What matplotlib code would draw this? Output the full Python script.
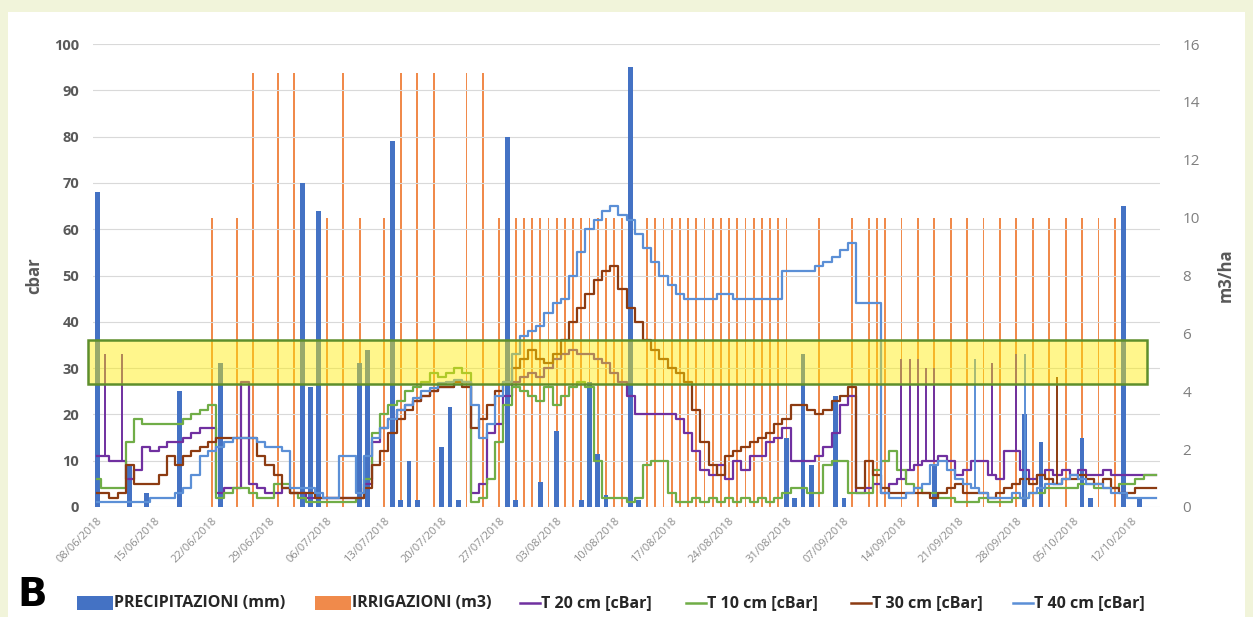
import matplotlib
matplotlib.use("Agg")
import matplotlib.pyplot as plt
from matplotlib.patches import Rectangle
from matplotlib.lines import Line2D

plt.rcParams['font.family'] = ['Open Sans', 'DejaVu Sans']

# ---- data (day 0 = 08/06/2018, one value per day) ----
days = list(range(130))

tick_days = [0, 7, 14, 21, 28, 35, 42, 49, 56, 63, 70, 77, 84, 91, 98, 105, 112, 119, 126]
tick_labels = ['08/06/2018', '15/06/2018', '22/06/2018', '29/06/2018', '06/07/2018',
               '13/07/2018', '20/07/2018', '27/07/2018', '03/08/2018', '10/08/2018',
               '17/08/2018', '24/08/2018', '31/08/2018', '07/09/2018', '14/09/2018',
               '21/09/2018', '28/09/2018', '05/10/2018', '12/10/2018']

# precipitation (mm, left axis)
rain_days = [0, 4, 6, 10, 15, 25, 26, 27, 32, 33, 36, 37, 38, 39, 42, 43, 44,
             50, 51, 54, 56, 59, 60, 61, 62, 65, 66, 84, 85, 86, 87, 90, 91,
             102, 113, 115, 120, 121, 125, 127]
rain_mm = [68, 9, 3, 25, 31, 70, 26, 64, 31, 34, 79, 1.5, 10, 1.5, 13, 21.5, 1.5,
           80, 1.5, 5.5, 16.5, 1.5, 27, 11.5, 2.5, 95, 1.5, 15, 2, 33, 9, 24, 2,
           9, 20, 14, 15, 2, 65, 2]

# irrigation (m3/ha, right axis)
irr_days = [14, 17, 19, 22, 24, 28, 30, 32, 35, 37, 39, 41, 45, 47, 49,
            51, 52, 53, 54, 55, 56, 57, 58, 59, 60, 61, 62, 63, 64,
            67, 68, 69, 70, 71, 72, 73, 74, 75, 76, 77, 78, 79, 80, 81, 82, 83, 84,
            88, 92, 94, 95, 96, 98, 100, 102, 104, 106, 108, 110, 112, 114,
            116, 118, 120, 122, 124]
irr_m3 = [10, 10, 15, 15, 15, 10, 15, 10, 10, 15, 15, 15, 15, 15, 10,
          10, 10, 10, 10, 10, 10, 10, 10, 10, 10, 10, 10, 10, 10,
          10, 10, 10, 10, 10, 10, 10, 10, 10, 10, 10, 10, 10, 10, 10, 10, 10, 10,
          10, 10, 10, 10, 10, 10, 10, 10, 10, 10, 10, 10, 10, 10,
          10, 10, 10, 10, 10]

# tensiometers (cbar)
t20 = [11, 11, 10, 10, 6, 8, 13, 12, 13, 14,
       14, 15, 16, 17, 17, 3, 4, 4, 27, 5,
       4, 3, 3, 4, 3, 3, 2, 2, 2, 2,
       2, 2, 2, 5, 14, 17, 19, 21, 22, 23,
       24, 25, 26, 26, 27, 27, 3, 5, 16, 18,
       24, 27, 28, 29, 28, 30, 32, 33, 34, 33,
       33, 32, 31, 29, 27, 24, 20, 20, 20, 20,
       20, 19, 16, 12, 8, 7, 9, 6, 10, 8,
       11, 11, 14, 15, 17, 10, 10, 10, 11, 13,
       16, 22, 24, 3, 4, 5, 3, 5, 6, 8,
       9, 10, 10, 11, 10, 7, 8, 10, 10, 7,
       6, 12, 12, 8, 6, 7, 8, 7, 8, 7,
       8, 7, 7, 8, 7, 7, 7, 7, 7, 7]
t10 = [6, 4, 4, 4, 14, 19, 18, 18, 18, 18,
       18, 19, 20, 21, 22, 2, 3, 4, 4, 3,
       2, 2, 5, 5, 3, 2, 1, 1, 1, 1,
       1, 1, 2, 6, 16, 20, 22, 23, 25, 26,
       27, 29, 28, 29, 30, 29, 1, 2, 6, 14,
       22, 26, 25, 24, 23, 26, 22, 24, 26, 27,
       26, 10, 2, 2, 2, 1, 2, 9, 10, 10,
       3, 1, 1, 2, 1, 2, 1, 2, 1, 2,
       1, 2, 1, 2, 3, 4, 4, 3, 3, 9,
       10, 10, 3, 3, 3, 8, 10, 12, 8, 5,
       4, 3, 3, 2, 2, 1, 1, 1, 2, 1,
       1, 1, 2, 2, 3, 3, 4, 4, 4, 4,
       5, 5, 4, 4, 4, 5, 5, 6, 7, 7]
t30 = [3, 3, 2, 3, 9, 5, 5, 5, 7, 11,
       9, 11, 12, 13, 14, 15, 15, 15, 15, 15,
       11, 9, 7, 4, 3, 3, 3, 2, 2, 2,
       2, 2, 2, 4, 9, 12, 16, 19, 21, 23,
       24, 25, 26, 26, 27, 26, 17, 19, 22, 25,
       27, 30, 32, 34, 32, 31, 33, 36, 40, 43,
       46, 49, 51, 52, 47, 43, 40, 36, 34, 32,
       30, 29, 27, 21, 14, 9, 7, 11, 12, 13,
       14, 15, 16, 18, 19, 22, 22, 21, 20, 21,
       23, 24, 26, 4, 10, 7, 4, 3, 3, 3,
       3, 3, 2, 3, 4, 5, 3, 3, 3, 2,
       3, 4, 5, 6, 5, 7, 6, 5, 6, 6,
       7, 6, 5, 6, 4, 3, 3, 4, 4, 4]
t40 = [1, 1, 1, 1, 1, 1, 1, 2, 2, 2,
       3, 4, 7, 11, 12, 13, 14, 15, 15, 15,
       14, 13, 13, 12, 4, 4, 4, 3, 2, 2,
       11, 11, 3, 11, 15, 17, 19, 21, 22, 23.5,
       25, 25.7, 26.8, 27, 27.4, 27, 22, 15, 18, 24,
       27, 33, 37, 38, 39, 42, 44, 45, 50, 55,
       60, 62, 64, 65, 63, 62, 59, 56, 53, 50,
       48, 46, 45, 45, 45, 45, 46, 46, 45, 45,
       45, 45, 45, 45, 51, 51, 51, 51, 52, 53,
       54, 55.5, 57, 44, 44, 44, 3, 2, 2, 3,
       4, 5, 9, 10, 8, 6, 5, 4, 3, 2,
       2, 2, 3, 2, 3, 4, 5, 5, 6, 7,
       6, 5, 5, 4, 3, 3, 2, 2, 2, 2]

# single-reading peaks of the tensiometers
t20_peak_days = [1, 3, 98, 99, 100, 101, 102, 109, 112]
t20_peak_vals = [33, 33, 32, 32, 32, 30, 30, 31, 33]
t40_peak_days = [107, 113]
t40_peak_vals = [32, 33]
t30_peak_days = [117]
t30_peak_vals = [28]

# optimal tension band
band_low, band_high = 26.5, 36

c_rain = '#4472c4'
c_irr = '#f08a4b'
c_t20 = '#7030a0'
c_t10 = '#70ad47'
c_t30 = '#8c3b12'
c_t40 = '#5b8fd6'

W, H = 1253, 617
fig = plt.figure(figsize=(W / 100, H / 100), dpi=100)
fig.patch.set_facecolor('#f1f4da')
fig.patches.append(Rectangle((8 / W, 0), (1245 - 8) / W, (617 - 12) / H,
                             transform=fig.transFigure, facecolor='white',
                             edgecolor='none', zorder=-10))

ax = fig.add_axes([93 / W, 1 - 507 / H, (1160 - 93) / W, (507 - 44) / H])
ax2 = ax.twinx()
ax.set_zorder(ax2.get_zorder() + 1)
ax.patch.set_visible(False)
ax2.patch.set_visible(False)

# irrigation on secondary axis (behind)
ax2.bar(irr_days, irr_m3, width=0.22, color=c_irr, zorder=2)
ax2.set_ylim(0, 16)
ax2.set_yticks(range(0, 17, 2))

# precipitation + lines on primary axis
ax.bar(rain_days, rain_mm, width=0.6, color=c_rain, zorder=2)
for vals, col in [(t20, c_t20), (t10, c_t10), (t30, c_t30), (t40, c_t40)]:
    ax.plot(days, vals, drawstyle='steps-mid', color=col, lw=1.6, zorder=3)
for pd_, pv, vals, col in [(t20_peak_days, t20_peak_vals, t20, c_t20),
                           (t40_peak_days, t40_peak_vals, t40, c_t40),
                           (t30_peak_days, t30_peak_vals, t30, c_t30)]:
    ax.vlines(pd_, [vals[d] for d in pd_], pv, color=col, lw=1.4, zorder=3)

ax.add_patch(Rectangle((-1.1, band_low), 129.0, band_high - band_low,
                       facecolor=(1.0, 0.93, 0.0, 0.45), edgecolor='#5e8f2c',
                       lw=1.8, zorder=10, clip_on=False))

ax.set_xlim(-0.5, 129.5)
ax.set_ylim(0, 100)
ax.set_yticks(range(0, 101, 10))
ax.grid(axis='y', color='#d9d9d9', lw=0.8)
ax.set_axisbelow(True)
ax.set_xticks(tick_days)
ax.set_xticklabels(tick_labels, rotation=45, ha='right', va='top',
                   fontsize=8, color='#8c8c8c', rotation_mode='anchor')
for a in (ax, ax2):
    for s in a.spines.values():
        s.set_visible(False)
    a.tick_params(length=0)
ax.tick_params(axis='x', pad=6)
ax.tick_params(axis='y', pad=10, labelsize=10.5, labelcolor='#595959')
for t in ax.get_yticklabels():
    t.set_fontweight('bold')
ax2.tick_params(axis='y', pad=16, labelsize=11, labelcolor='#7f7f7f')

ax.set_ylabel('cbar', fontsize=12, fontweight='bold', color='#595959', labelpad=8)
ax2.set_ylabel('m3/ha', fontsize=12, fontweight='bold', color='#595959', labelpad=12)

# legend row
fig.text(17 / W, 1 - 606 / H, 'B', fontsize=28, fontweight='heavy',
         family='DejaVu Sans', va='baseline', ha='left', color='black')
ly = 1 - 603 / H
patches = [(77, c_rain, 'PRECIPITAZIONI (mm)'), (315, c_irr, 'IRRIGAZIONI (m3)')]
for x0, col, lab in patches:
    fig.patches.append(Rectangle((x0 / W, ly - 7 / H), 36 / W, 14 / H,
                                 transform=fig.transFigure, facecolor=col,
                                 edgecolor='none'))
    fig.text((x0 + 37) / W, ly, lab, fontsize=11.5, fontweight='bold',
             va='center', ha='left', color='#262626')
lines = [(520, c_t20, 'T 20 cm [cBar]'), (686, c_t10, 'T 10 cm [cBar]'),
         (851, c_t30, 'T 30 cm [cBar]'), (1013, c_t40, 'T 40 cm [cBar]')]
for x0, col, lab in lines:
    fig.add_artist(Line2D([x0 / W, (x0 + 20) / W], [ly, ly], color=col, lw=1.8,
                          transform=fig.transFigure))
    fig.text((x0 + 21) / W, ly, lab, fontsize=11.5, fontweight='bold',
             va='center', ha='left', color='#262626')

fig.savefig('out.png', dpi=100, facecolor=fig.get_facecolor())
